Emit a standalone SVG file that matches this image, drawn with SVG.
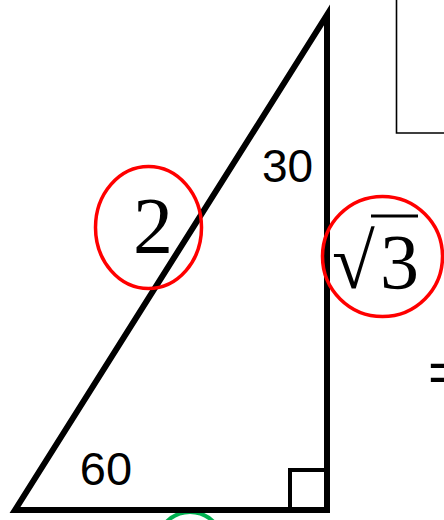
<svg xmlns="http://www.w3.org/2000/svg" width="444" height="520" viewBox="0 0 444 520">
<style>
.lbl{font-family:"Liberation Sans",Arial,sans-serif;fill:#000}
.math{font-family:"Liberation Serif","Times New Roman",serif;fill:#000}
.red{fill:none;stroke:#F00;stroke-width:3.5}
</style>
<rect width="444" height="520" fill="#fff"/>
<g id="box"><polyline points="396.5,0 396.5,133 444,133" fill="none" stroke="#000" stroke-width="1.6"/></g>
<g id="green-mark"><circle cx="190" cy="545" r="33" fill="none" stroke="#00B050" stroke-width="4"/></g>
<g id="triangle">
<polygon points="15,510 327,15 327,510" fill="none" stroke="#000" stroke-width="6" stroke-linejoin="miter"/>
<polyline points="290,510 290,470 327,470" fill="none" stroke="#000" stroke-width="4"/>
</g>
<g id="angle30"><text class="lbl" x="287.5" y="182" font-size="46" text-anchor="middle">30</text></g>
<g id="angle60"><text class="lbl" x="106" y="485" font-size="47" text-anchor="middle">60</text></g>
<g id="hyp"><ellipse class="red" cx="148.5" cy="227.5" rx="53" ry="61"/>
<text class="math" x="133" y="253" font-size="80">2</text></g>
<g id="side"><ellipse class="red" cx="382.5" cy="256.5" rx="60" ry="60"/>
<text class="math" y="288" font-size="78"><tspan x="332">√</tspan><tspan x="380">3</tspan></text>
<line x1="371" y1="216" x2="418" y2="216" stroke="#000" stroke-width="3"/></g>
<g id="eq"><text class="lbl" x="428" y="391.5" font-size="58">=</text></g>
</svg>
